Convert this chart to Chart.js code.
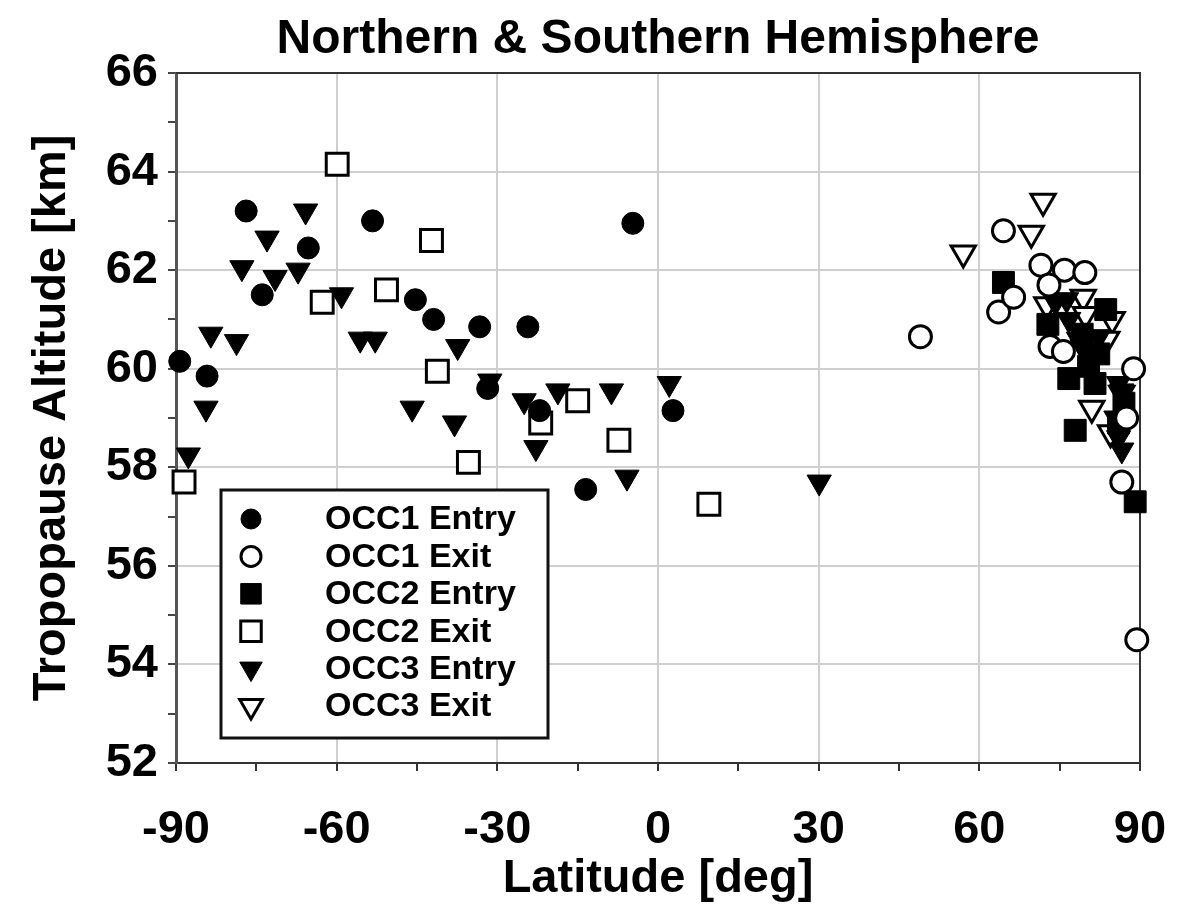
<!DOCTYPE html>
<html>
<head>
<meta charset="utf-8">
<script src="https://cdn.jsdelivr.net/npm/chart.js@4/dist/chart.umd.min.js"></script>
<style>
  body { margin: 0; background: #fff; }
  #wrap { width: 1192px; height: 909px; }
</style>
</head>
<body>
<div id="wrap"><canvas id="tropoChart" width="1192" height="909"></canvas></div>
<script>

// values: latitude [deg] / tropopause altitude [km]
const occ1EntryLat = [-89.3, -84.2, -76.9, -73.9, -65.3, -53.3, -45.3, -41.9, -33.3, -31.8, -24.3, -22.1, -13.5, -4.7, 2.8];
const occ1EntryAlt = [60.15, 59.85, 63.2, 61.5, 62.45, 63.0, 61.4, 61.0, 60.85, 59.6, 60.85, 59.15, 57.55, 62.95, 59.15];

const occ1ExitLat = [49.0, 64.5, 63.6, 66.4, 71.5, 75.9, 79.7, 73.0, 73.2, 75.7, 88.8, 87.5, 86.6, 89.4];
const occ1ExitAlt = [60.65, 62.8, 61.15, 61.45, 62.1, 62.0, 61.95, 61.7, 60.45, 60.35, 60.0, 59.0, 57.7, 54.5];

const occ2EntryLat = [64.5, 72.8, 83.6, 79.2, 80.4, 76.7, 81.6, 77.9, 86.0, 89.1, 82.3, 87.0];
const occ2EntryAlt = [61.75, 60.9, 61.2, 60.7, 60.05, 59.8, 59.7, 58.75, 58.9, 57.3, 60.3, 59.3];

const occ2ExitLat = [-88.5, -59.9, -62.7, -50.7, -42.3, -41.2, -35.4, -21.9, -15.0, -7.3, 9.5];
const occ2ExitAlt = [57.7, 64.15, 61.35, 61.6, 62.6, 59.95, 58.1, 58.9, 59.35, 58.55, 57.25];

const occ3EntryLat = [-87.7, -84.4, -83.5, -78.7, -77.7, -73.0, -71.5, -67.2, -65.8, -59.1, -55.6, -52.8,
                      -45.9, -38.0, -37.4, -31.4, -25.0, -22.8, -18.7, -8.7, -5.8, 2.1, 30.1,
                      74.2, 76.3, 76.7, 78.5, 79.2, 81.0, 82.3, 86.0, 86.6, 85.5, 86.0, 86.6];
const occ3EntryAlt = [58.25, 59.2, 60.7, 60.55, 62.05, 62.65, 61.85, 62.0, 63.2, 61.5, 60.6, 60.6,
                      59.2, 58.9, 60.45, 59.75, 59.35, 58.4, 59.55, 59.55, 57.8, 59.7, 57.7,
                      61.35, 61.4, 61.0, 60.6, 60.45, 60.2, 60.65, 59.7, 59.55, 59.0, 58.6, 58.35];

const occ3ExitLat = [57.0, 69.7, 71.9, 72.6, 79.4, 79.8, 84.8, 83.8, 81.0, 86.6, 84.5];
const occ3ExitAlt = [62.35, 62.75, 63.4, 61.3, 61.45, 61.1, 61.0, 60.6, 59.2, 59.5, 58.7];

const seriesNames = ["OCC1 Entry", "OCC1 Exit", "OCC2 Entry", "OCC2 Exit", "OCC3 Entry", "OCC3 Exit"];

const FONT = "'Liberation Sans', Arial, Helvetica, sans-serif";


function toPoints(lats, alts){
    return lats.map(function(lat, i){ return {x: lat, y: alts[i]}; });
}


function makeSet(label, lats, alts, style, filled){
    let radius = style === 'circle' ? 11 : (style === 'rect' ? 15.5 : 14);
    return {
        label: label,
        data: toPoints(lats, alts),
        pointStyle: style === 'down' ? 'triangle' : style,
        rotation: style === 'down' ? 180 : 0,
        pointRadius: radius,
        pointHoverRadius: radius,
        backgroundColor: filled ? '#000' : '#fff',
        borderColor: '#000',
        borderWidth: filled ? 1 : 3,
        clip: false
    };
}


// top/right frame lines
const framePlugin = {
    id: 'frame',
    beforeDatasetsDraw(chart){
        const a = chart.chartArea;
        const ctx = chart.ctx;
        ctx.save();
        ctx.strokeStyle = '#333';
        ctx.lineWidth = 2;
        ctx.beginPath();
        ctx.moveTo(a.left, a.top);
        ctx.lineTo(a.right, a.top);
        ctx.lineTo(a.right, a.bottom);
        ctx.stroke();
        ctx.restore();
    }
};


// boxed legend inside the plot, lower left
const boxLegend = {
    id: 'boxLegend',
    afterDraw(chart){
        const a = chart.chartArea;
        const ctx = chart.ctx;
        const x0 = a.left + 45, y0 = a.top + 417, w = 327, h = 248;
        ctx.save();
        ctx.fillStyle = '#fff';
        ctx.fillRect(x0, y0, w, h);
        ctx.strokeStyle = '#111';
        ctx.lineWidth = 3;
        ctx.strokeRect(x0, y0, w, h);

        ctx.font = "bold 34px " + FONT;
        ctx.textBaseline = 'middle';
        chart.data.datasets.forEach(function(ds, i){
            let cy = y0 + 29 + i * 37.4;
            let r = ds.pointStyle === 'circle' ? 10 : (ds.pointStyle === 'rect' ? 14.5 : 13);
            ctx.fillStyle = ds.backgroundColor;
            ctx.strokeStyle = ds.borderColor;
            ctx.lineWidth = ds.borderWidth;
            Chart.helpers.drawPoint(ctx, {
                pointStyle: ds.pointStyle,
                rotation: ds.rotation,
                radius: r,
                borderWidth: ds.borderWidth
            }, x0 + 30, cy);
            ctx.fillStyle = '#000';
            ctx.textAlign = 'left';
            ctx.fillText(ds.label, x0 + 104, cy + 1);
        });
        ctx.restore();
    }
};


function renderChart(){

    new Chart(document.getElementById("tropoChart"), {
        type: 'scatter',
        data: {
            datasets: [
                makeSet(seriesNames[0], occ1EntryLat, occ1EntryAlt, 'circle', true),
                makeSet(seriesNames[1], occ1ExitLat, occ1ExitAlt, 'circle', false),
                makeSet(seriesNames[2], occ2EntryLat, occ2EntryAlt, 'rect', true),
                makeSet(seriesNames[3], occ2ExitLat, occ2ExitAlt, 'rect', false),
                makeSet(seriesNames[4], occ3EntryLat, occ3EntryAlt, 'down', true),
                makeSet(seriesNames[5], occ3ExitLat, occ3ExitAlt, 'down', false)
            ]
        },
        options: {
            responsive: false,
            animation: false,
            layout: { padding: { left: 0, right: 52, top: 0, bottom: 0 } },
            plugins: {
                legend: { display: false },
                tooltip: { enabled: false },
                title: {
                    display: true,
                    fullSize: false,
                    text: "Northern & Southern Hemisphere",
                    color: '#000',
                    font: { family: FONT, size: 48, weight: 'bold' },
                    padding: { top: 11, bottom: 4.4 }
                }
            },
            scales: {
                x: {
                    type: 'linear',
                    min: -90,
                    max: 90,
                    afterFit: function(s){
                        s.height = 146;
                        s.paddingLeft = 0;
                        s.paddingRight = 0;
                    },
                    ticks: {
                        stepSize: 15,
                        autoSkip: false,
                        maxRotation: 0,
                        padding: 31,
                        color: '#000',
                        font: { family: FONT, size: 47, weight: 'bold' },
                        callback: function(v){ return v % 30 === 0 ? v : ''; }
                    },
                    grid: {
                        color: function(c){ return c.tick && c.tick.value % 30 === 0 ? '#cfcfcf' : 'rgba(0,0,0,0)'; },
                        lineWidth: 2,
                        tickColor: '#333',
                        tickLength: 8
                    },
                    border: { color: '#333', width: 2 },
                    title: {
                        display: true,
                        text: "Latitude [deg]",
                        color: '#000',
                        font: { family: FONT, size: 47, weight: 'bold' },
                        padding: { top: 0, bottom: 2 }
                    }
                },
                y: {
                    type: 'linear',
                    min: 52,
                    max: 66,
                    afterFit: function(s){ s.width = 176; },
                    ticks: {
                        stepSize: 1,
                        autoSkip: false,
                        padding: 10,
                        color: '#000',
                        font: { family: FONT, size: 47, weight: 'bold' },
                        callback: function(v){ return v % 2 === 0 ? v : ''; }
                    },
                    grid: {
                        color: function(c){ return c.tick && c.tick.value % 2 === 0 ? '#cfcfcf' : 'rgba(0,0,0,0)'; },
                        lineWidth: 2,
                        tickColor: '#444',
                        tickLength: 8
                    },
                    border: { color: '#555', width: 3 },
                    title: {
                        display: true,
                        text: "Tropopause Altitude [km]",
                        color: '#000',
                        font: { family: FONT, size: 47, weight: 'bold' },
                        padding: { top: 24, bottom: 0 }
                    }
                }
            }
        },
        plugins: [framePlugin, boxLegend]
    });

}

renderChart();
</script>
</body>
</html>
